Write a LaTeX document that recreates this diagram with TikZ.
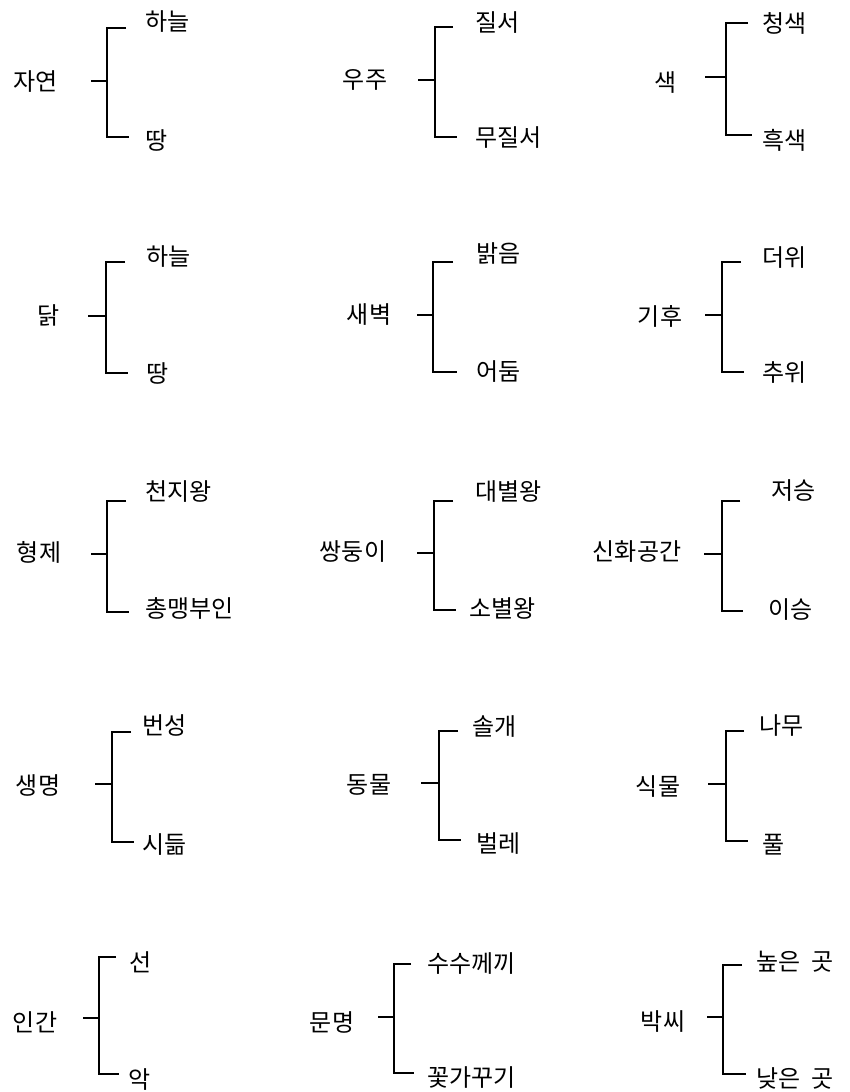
\documentclass[tikz,border=0pt]{standalone}
\usepackage{fontspec}
\setmainfont{Noto Sans CJK KR}
\begin{document}
\begin{tikzpicture}[x=1pt,y=-1pt,
  lbl/.style={inner sep=0pt,font=\fontsize{24}{28}\selectfont},
  parent/.style={lbl,anchor=center},
  leaf/.style={lbl,anchor=west},
  brk/.style={line width=1.9pt,line cap=butt,line join=miter}]
\useasboundingbox (0,0) rectangle (850,1092);
\foreach \i/\pt/\px/\py/\sx/\sy/\vx/\vt/\vb/\te/\be/\tx/\bx/\tt/\ty/\bt/\by in {
 1/자연/36/82/91/81/107/28/137/126/129/145/145/하늘/22/땅/140,
 2/우주/365/80/418/80/435/27/137/453/457/475/475/질서/23/무질서/138,
 3/색/666/83/705/77/726/23/135/748/752/762/762/청색/23/흑색/140,
 4/닭/49/315/88/316/106/262/373/125/128/146/146/하늘/257/땅/373,
 5/새벽/369/315/417/315/433/262/372/453/457/476/476/밝음/253/어둠/372,
 6/기후/660/316/705/315/722/262/372/741/744/762/762/더위/258/추위/373,
 7/형제/39/552/91/554/107/501/612/126/129/145/145/천지왕/492/총맹부인/608,
 8/쌍둥이/353/552/417/553/434/501/610/453/456/475/469/대별왕/492/소별왕/608,
 9/신화공간/637/552/704/554/722/501/611/740/743/771/768/저승/491/이승/610,
 10/생명/38/785/95/784/112/732/842/131/134/142/142/번성/725/시듦/845,
 11/동물/369/785/421/783/439/731/840/458/461/472/476/솔개/727/벌레/844,
 12/식물/658/787/708/784/726/731/841/744/748/759/762/나무/725/풀/845,
 13/인간/35/1022/83/1018/99/957/1074/116/119/129/128/선/962/악/1080,
 14/문명/332/1022/378/1017/394/964/1073/411/414/427/427/수수께끼/963/꽃가꾸기/1077,
 15/박씨/663/1021/707/1017/723/965/1074/742/746/756/756/높은\hspace{11pt}곳/962/낮은\hspace{11pt}곳/1078}{
  \node[parent] (p\i) at (\px,\py) {\pt};
  \node[leaf] (a\i) at (\tx,\ty) {\tt};
  \node[leaf] (b\i) at (\bx,\by) {\bt};
  \coordinate (s\i) at (\sx,\sy);
  \coordinate (m\i) at (\vx,\sy);
  \coordinate (u\i) at (\vx,\vt);
  \coordinate (d\i) at (\vx,\vb);
  \coordinate (ue\i) at (\te,\vt);
  \coordinate (de\i) at (\be,\vb);
  \draw[brk] (s\i) -- (m\i);
  \draw[brk] (ue\i) -- (u\i) -- (d\i) -- (de\i);
}
\end{tikzpicture}
\end{document}
